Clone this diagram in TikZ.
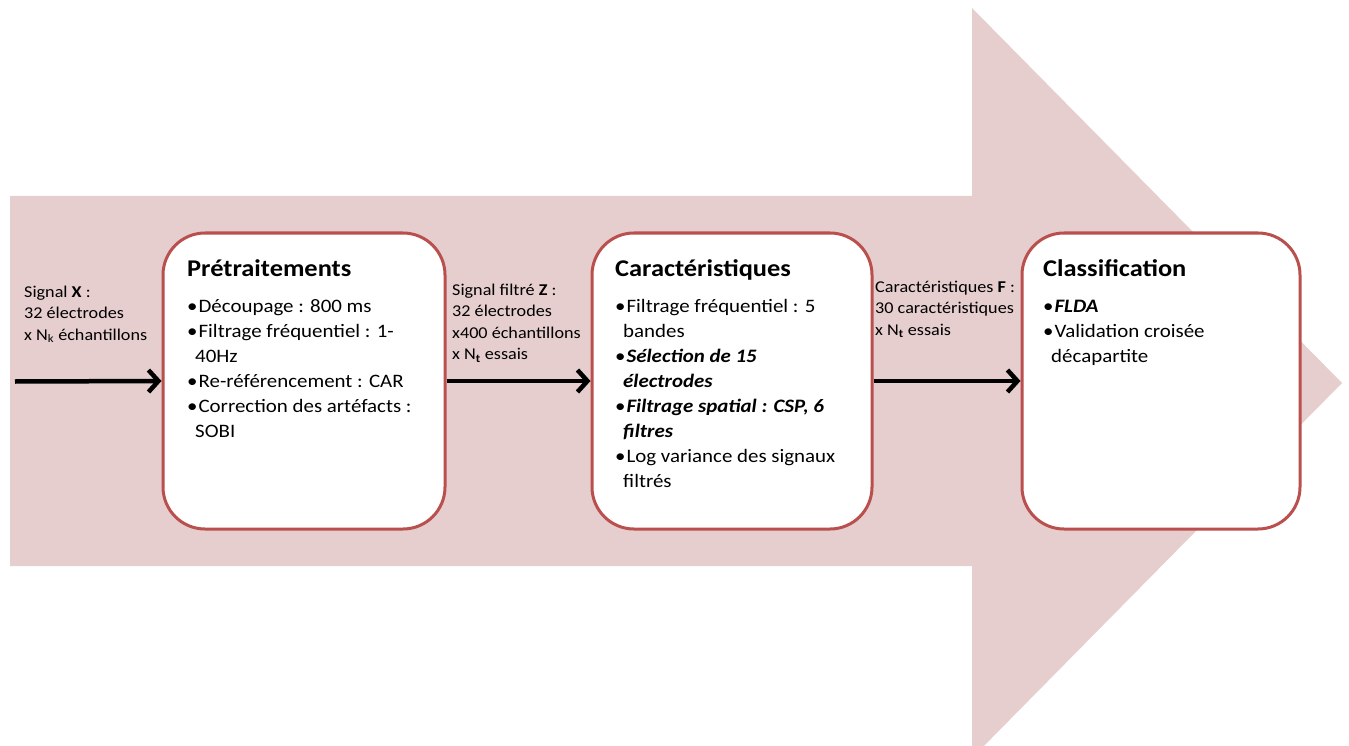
\documentclass[tikz,border=0pt]{standalone}
\usepackage{fontspec}
\setmainfont{Carlito}[FakeStretch=1.1]
\usetikzlibrary{arrows.meta}
\definecolor{pinkbg}{HTML}{E6CDCE}
\definecolor{boxred}{HTML}{B9504D}
\newcommand{\bl}{•\hspace{1pt}}
\newcommand{\cont}{\hspace*{8pt}}
\tikzset{
  bigarrow/.style={fill=pinkbg, draw=none},
  stagebox/.style={draw=boxred, line width=3pt, fill=white, rounded corners=42pt,
    minimum height=296pt, inner sep=0pt},
  titletext/.style={anchor=base west, inner sep=0pt, font=\fontsize{24}{28}\selectfont\bfseries},
  items/.style={anchor=north west, inner sep=0pt, align=left, font=\fontsize{19}{25}\selectfont},
  flowlabel/.style={anchor=north west, inner sep=0pt, align=left, font=\fontsize{16.5}{21.5}\selectfont},
  conn/.style={line width=4.5pt, black, -{Straight Barb[length=10pt,width=22pt]}}
}
\begin{document}
\begin{tikzpicture}[x=1pt,y=-1pt]
\useasboundingbox (0,0) rectangle (1349,746);
% big background arrow
\fill[bigarrow] (10,196) -- (972,196) -- (972,8) -- (1342,383) -- (972,758) -- (972,566) -- (10,566) -- cycle;
% boxes
\node[stagebox, minimum width=282pt] (b1) at (304,381) {};
\node[stagebox, minimum width=280pt] (b2) at (732,381) {};
\node[stagebox, minimum width=278pt] (b3) at (1161,381) {};
% titles
\node[titletext] (t1) at (187,276) {Prétraitements};
\node[titletext] (t2) at (615,276) {Caractéristiques};
\node[titletext] (t3) at (1043,276) {Classification};
% items
\node[items] (i1) at (187,294.5) {\strut\bl Découpage : 800 ms\\
\bl Filtrage fréquentiel : 1-\\
\cont 40Hz\\
\bl Re-référencement : CAR\\
\bl Correction des artéfacts :\\
\cont SOBI};
\node[items] (i2) at (615,294.5) {\strut\bl Filtrage fréquentiel : 5\\
\cont bandes\\
\bl{\bfseries\itshape Sélection de 15}\\
\cont{\bfseries\itshape électrodes}\\
\bl{\bfseries\itshape Filtrage spatial : CSP, 6}\\
\cont{\bfseries\itshape filtres}\\
\bl Log variance des signaux\\
\cont filtrés};
\node[items] (i3) at (1043,294.5) {\strut\bl{\bfseries\itshape FLDA}\\
\bl Validation croisée\\
\cont décapartite};
% flow labels
\node[flowlabel] (l1) at (24,282) {\strut Signal \textbf{X} :\\
32 électrodes\\
x N\textsubscript{k} échantillons};
\node[flowlabel] (l2) at (452,280) {\strut Signal filtré \textbf{Z} :\\
32 électrodes\\
x400 échantillons\\
x N\textsubscript{\textbf{t}} essais};
\node[flowlabel] (l3) at (875,277) {\strut Caractéristiques \textbf{F} :\\
30 caractéristiques\\
x N\textsubscript{\textbf{t}} essais};
% connectors
\coordinate (start) at (15,381.5);
\draw[conn] (start) -- (b1.west);
\draw[conn] (b1.east) -- (b2.west);
\draw[conn] (b2.east) -- (b3.west);
\end{tikzpicture}
\end{document}
